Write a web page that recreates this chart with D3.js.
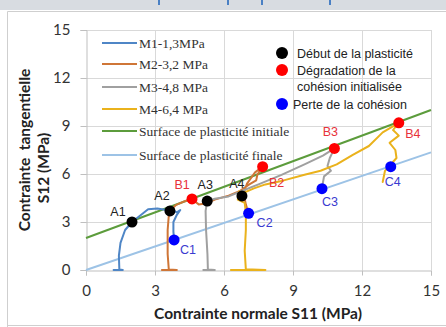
<!DOCTYPE html>
<html>
<head>
<meta charset="utf-8">
<script src="https://cdn.jsdelivr.net/npm/d3@7"></script>
<style>
  html, body { margin: 0; padding: 0; background: #fff; }
  svg { display: block; }
</style>
</head>
<body>
<div id="chart"></div>
<script>
// axis ticks
const xTicks = [0, 3, 6, 9, 12, 15];
const yTicks = [0, 3, 6, 9, 12, 15];

// loading paths (S11, S12)
const m1 = [[1.2, 0], [1.6, 0], [1.45, 0.03], [1.43, 0.9], [1.5, 1.7], [1.7, 2.5], [2.0, 3.0], [2.4, 3.45], [2.7, 3.8], [3.1, 3.85], [3.5, 3.75], [3.7, 3.8], [3.95, 3.6], [4.1, 3.75], [3.95, 3.45], [3.8, 3.0], [3.8, 2.4], [3.83, 1.9]];
const m2 = [[3.3, 0], [3.95, 0], [3.6, 0.03], [3.55, 1.0], [3.55, 2.5], [3.6, 3.4], [3.65, 3.7], [3.9, 4.05], [4.3, 4.3], [4.6, 4.44], [4.9, 4.1], [5.2, 4.15], [5.6, 4.4], [6.2, 4.65], [6.7, 4.95], [7.1, 5.35], [7.4, 5.6], [7.45, 5.95], [7.68, 6.46], [7.35, 6.1], [7.0, 5.4], [6.85, 4.8], [6.95, 4.1], [7.05, 3.6]];
const m3 = [[5.1, 0], [5.6, 0], [5.3, 0.03], [5.28, 1.0], [5.22, 2.5], [5.2, 3.7], [5.27, 4.31], [5.6, 4.45], [6.2, 4.6], [6.8, 4.95], [7.5, 5.35], [8.5, 5.95], [9.5, 6.6], [10.3, 7.15], [10.8, 7.6], [10.6, 7.0], [10.5, 6.5], [10.65, 6.2], [10.35, 5.85], [10.3, 5.45], [10.26, 5.08]];
const m4 = [[6.3, 0], [7.8, 0], [6.95, 0.04], [6.9, 1.2], [6.95, 2.5], [6.95, 3.6], [6.9, 4.2], [6.6, 4.4], [6.65, 4.9], [6.9, 4.85], [7.3, 5.1], [7.8, 5.35], [8.6, 5.6], [9.5, 5.95], [10.2, 6.2], [10.9, 6.6], [11.6, 7.2], [12.3, 7.75], [12.9, 8.6], [13.6, 9.2], [13.35, 8.75], [13.6, 8.4], [13.2, 7.95], [13.45, 7.5], [13.5, 7.0], [13.25, 6.6], [13.0, 6.2], [12.9, 5.5]];

// yield surfaces (S11 -> S12)
const surfInit = [[0, 2.0], [15, 10.0]];
const surfFinal = [[0, 0], [15, 7.35]];

// key points
const ptsA = [[2.0, 3.0], [3.65, 3.69], [5.27, 4.31], [6.78, 4.63]];
const ptsB = [[4.61, 4.44], [7.68, 6.46], [10.8, 7.6], [13.6, 9.2]];
const ptsC = [[3.83, 1.88], [7.07, 3.54], [10.26, 5.08], [13.25, 6.46]];
const namesA = ['A1', 'A2', 'A3', 'A4'];
const namesB = ['B1', 'B2', 'B3', 'B4'];
const namesC = ['C1', 'C2', 'C3', 'C4'];

const curveNames = ['M1-1,3MPa', 'M2-3,2 MPa', 'M3-4,8 MPa', 'M4-6,4 MPa', 'Surface de plasticité initiale', 'Surface de plasticité finale'];
const markerNames = [['Début de la plasticité'], ['Dégradation de la', 'cohésion initialisée'], ['Perte de la cohésion']];

// label offsets in px (style only)
const offA = [[-14, -10], [-8, -15], [-2, -16], [-5, -12]];
const offB = [[-10, -14], [14, 16], [-4, -16], [14, 11]];
const offC = [[14, 10], [16, 10], [8, 13], [2, 15]];

const width = 446, height = 327;
const colors = ['#4f86c6', '#cf7637', '#a0a0a0', '#eab21c', '#5c9c3c', '#9dc3e6'];

const svg = d3.select('#chart').append('svg')
  .attr('width', width).attr('height', height);

// window strip at the top
svg.append('rect').attr('x', 0).attr('y', 0).attr('width', width).attr('height', 10).attr('fill', '#d8dce1');
[159, 228, 262, 330].forEach(px => {
  svg.append('rect').attr('x', px - 1).attr('y', 0).attr('width', 2).attr('height', 5).attr('fill', '#4a80c4');
});
svg.append('path').attr('d', 'M7.5,' + height + ' V11.5 H' + width)
  .attr('fill', 'none').attr('stroke', '#cfcfcf');
svg.append('line').attr('x1', 7).attr('x2', width).attr('y1', 325.5).attr('y2', 325.5).attr('stroke', '#cfcfcf');

const x = d3.scaleLinear().domain([0, 15]).range([86, 431]);
const y = d3.scaleLinear().domain([0, 15]).range([270, 30]);

// grid
svg.append('g').selectAll('line').data(yTicks.slice(1)).join('line')
  .attr('x1', x(0)).attr('x2', x(15)).attr('y1', d => y(d) + 0.5).attr('y2', d => y(d) + 0.5)
  .attr('stroke', '#d9d9d9');
svg.append('g').selectAll('line').data(xTicks.slice(1)).join('line')
  .attr('y1', y(0)).attr('y2', y(15)).attr('x1', d => x(d) + 0.5).attr('x2', d => x(d) + 0.5)
  .attr('stroke', '#d9d9d9');

// axes
const xAxis = svg.append('g').attr('transform', `translate(0,${y(0) + 0.5})`)
  .call(d3.axisBottom(x).tickValues(xTicks).tickSize(5).tickPadding(8));
const yAxis = svg.append('g').attr('transform', `translate(${x(0) + 0.5},0)`)
  .call(d3.axisLeft(y).tickValues(yTicks).tickSize(6).tickPadding(10));
[xAxis, yAxis].forEach(g => {
  g.select('.domain').attr('stroke', '#bfbfbf');
  g.selectAll('.tick line').attr('stroke', '#bfbfbf');
  g.selectAll('.tick text').attr('fill', '#333').style('font', '15px Lato, sans-serif');
});
xAxis.selectAll('.tick text').attr('dy', '0.85em');

svg.append('text').attr('x', 258).attr('y', 319).attr('text-anchor', 'middle')
  .style('font', 'bold 15.5px Lato, sans-serif').attr('fill', '#222')
  .text('Contrainte normale S11 (MPa)');
const yTitle = svg.append('text').attr('transform', 'translate(30,150) rotate(-90)')
  .attr('text-anchor', 'middle').style('font', 'bold 15.5px Lato, sans-serif').attr('fill', '#222');
yTitle.append('tspan').attr('x', 0).attr('dy', 0).attr('xml:space', 'preserve').text('Contrainte  tangentielle');
yTitle.append('tspan').attr('x', -18).attr('dy', 19).text('S12 (MPa)');

const line = d3.line().x(d => x(d[0])).y(d => y(d[1]));

// yield surfaces
[surfInit, surfFinal].forEach((s, i) => {
  svg.append('path').attr('d', line(s)).attr('fill', 'none')
    .attr('stroke', colors[4 + i]).attr('stroke-width', 2);
});

// loading curves
[m1, m2, m3, m4].forEach((c, i) => {
  svg.append('path').attr('d', line(c)).attr('fill', 'none')
    .attr('stroke', colors[i]).attr('stroke-width', 2)
    .attr('stroke-linejoin', 'round').attr('stroke-linecap', 'round');
});

// markers and labels
const groups = [
  { pts: ptsA, names: namesA, off: offA, fill: '#000', txt: '#222' },
  { pts: ptsB, names: namesB, off: offB, fill: '#ff0000', txt: '#e8313a' },
  { pts: ptsC, names: namesC, off: offC, fill: '#0000ff', txt: '#3a3ad0' }
];
groups.forEach(gr => {
  svg.append('g').selectAll('circle').data(gr.pts).join('circle')
    .attr('cx', d => x(d[0])).attr('cy', d => y(d[1])).attr('r', 5.5).attr('fill', gr.fill);
  svg.append('g').selectAll('text').data(gr.pts).join('text')
    .attr('x', (d, i) => x(d[0]) + gr.off[i][0])
    .attr('y', (d, i) => y(d[1]) + gr.off[i][1])
    .attr('text-anchor', 'middle').attr('dominant-baseline', 'central')
    .style('font', '12.5px "Liberation Sans", Arial, sans-serif').attr('fill', gr.txt)
    .text((d, i) => gr.names[i]);
});

// legend for curves
const legend = svg.append('g');
curveNames.forEach((name, i) => {
  const ly = [43, 64, 87, 109, 131, 155][i];
  legend.append('line').attr('x1', 102).attr('x2', 137).attr('y1', ly).attr('y2', ly)
    .attr('stroke', colors[i]).attr('stroke-width', 2);
  legend.append('text').attr('x', 139).attr('y', ly).attr('dominant-baseline', 'central')
    .style('font', '13.5px "Liberation Serif", serif').attr('fill', '#333').text(name);
});

// legend for markers
const mk = svg.append('g');
const mkY = [53, 70, 104];
const mkFill = ['#000', '#ff0000', '#0000ff'];
markerNames.forEach((lines, i) => {
  mk.append('circle').attr('cx', 282).attr('cy', mkY[i]).attr('r', 6).attr('fill', mkFill[i]);
  lines.forEach((t, j) => {
    mk.append('text').attr('x', i === 2 ? 293 : 297).attr('y', mkY[i] + 1 + j * 16)
      .attr('dominant-baseline', 'central')
      .style('font', '12.5px "Liberation Sans", Arial, sans-serif').attr('fill', '#222').text(t);
  });
});
</script>
</body>
</html>
